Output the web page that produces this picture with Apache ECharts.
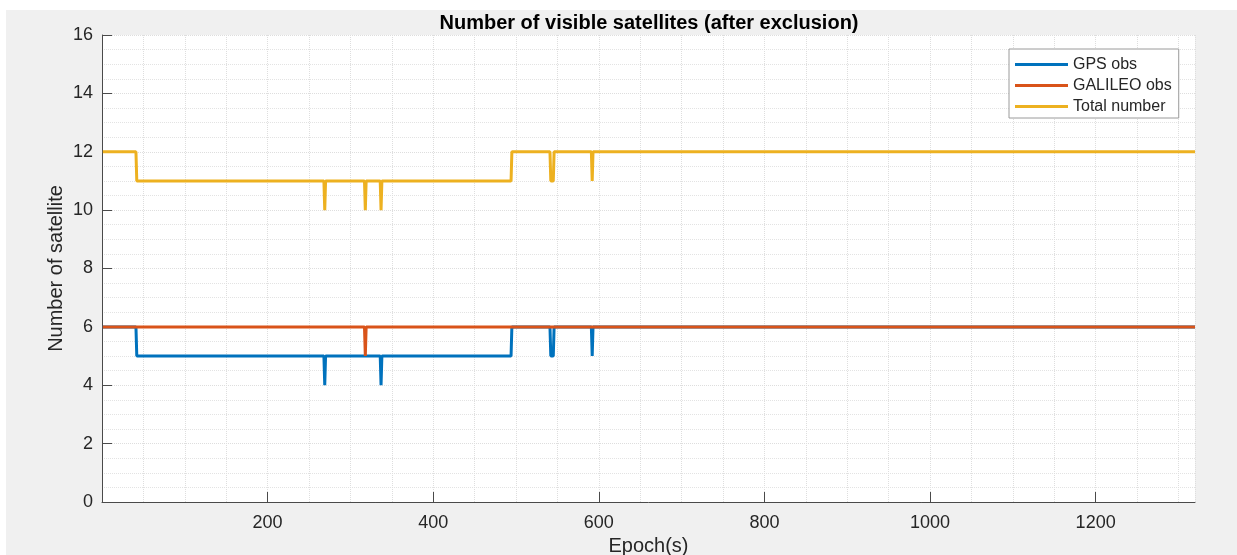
<!DOCTYPE html>
<html>
<head>
<meta charset="utf-8">
<script src="https://cdn.jsdelivr.net/npm/echarts@6/dist/echarts.min.js"></script>
<style>
  html, body { margin: 0; padding: 0; background: #ffffff; width: 1237px; height: 555px; overflow: hidden; }
  #chart { position: absolute; left: 6px; top: 10px; width: 1231px; height: 545px; background: #f0f0f0; }
</style>
</head>
<body>
<div id="chart"></div>
<script>
// ---- Data (epoch, count) vertices ----
const seriesNames = ['GPS obs', 'GALILEO obs', 'Total number'];
const gpsPoints = [[1,6],[41,6],[42,5],[268,5],[269,4],[270,5],[336,5],[337,4],[338,5],[494,5],[495,6],[541,6],[542,5],[545,5],[546,6],[591,6],[592,5],[593,6],[1320,6]];
const galileoPoints = [[1,6],[317,6],[318,5],[319,6],[1320,6]];
const totalPoints = [[1,12],[41,12],[42,11],[268,11],[269,10],[270,11],[317,11],[318,10],[319,11],[336,11],[337,10],[338,11],[494,11],[495,12],[541,12],[542,11],[545,11],[546,12],[591,12],[592,11],[593,12],[1320,12]];
const xTickLabels = [200, 400, 600, 800, 1000, 1200];
const yTickLabels = [0, 2, 4, 6, 8, 10, 12, 14, 16];

const colors = ['#0072BD', '#D95319', '#EDB120'];
const font = "'Liberation Sans', Arial, Helvetica, sans-serif";
const textColor = '#262626';

const chart = echarts.init(document.getElementById('chart'), null, { renderer: 'canvas' });
const mk = (name, data, color) => ({
  name, type: 'line', data, showSymbol: false, symbol: 'none',
  lineStyle: { color, width: 3 }, itemStyle: { color },
  xAxisIndex: 0, yAxisIndex: 0, animation: false
});

chart.setOption({
  animation: false,
  backgroundColor: '#f0f0f0',
  title: {
    text: 'Number of visible satellites (after exclusion)',
    left: 638, top: -2, textAlign: 'center',
    textStyle: { fontFamily: font, fontSize: 20, fontWeight: 'bold', color: '#000' }
  },
  legend: {
    orient: 'vertical', left: 1003, top: 39,
    data: seriesNames,
    icon: 'rect', itemWidth: 53, itemHeight: 3, itemGap: 0,
    backgroundColor: '#ffffff', borderColor: '#9a9a9a', borderWidth: 1,
    padding: [5, 7, 1, 6],
    textStyle: { fontFamily: font, fontSize: 16, color: textColor, lineHeight: 21 }
  },
  grid: { left: 96, right: 42, top: 25, bottom: 53, backgroundColor: '#ffffff', show: true, borderWidth: 0,
          containLabel: false, outerBoundsMode: 'none' },
  xAxis: [
    {
      type: 'value', min: 0, max: 1320, interval: 200,
      name: 'Epoch(s)', nameLocation: 'middle', nameGap: 34, nameMoveOverlap: false,
      nameTextStyle: { fontFamily: font, fontSize: 20, color: textColor },
      axisLine: { show: true, lineStyle: { color: '#4a4a4a', width: 1 } },
      axisTick: { show: true, inside: true, length: 10, customValues: xTickLabels, lineStyle: { color: '#4a4a4a' } },
      axisLabel: { customValues: xTickLabels, fontFamily: font, fontSize: 18, color: textColor, margin: 12,
        formatter: v => String(v) },
      splitLine: { show: false }
    },
    {
      type: 'value', min: 0, max: 1320, interval: 50, gridIndex: 0,
      axisLine: { show: false }, axisTick: { show: false }, axisLabel: { show: false },
      splitLine: { show: true, lineStyle: { color: '#dedede', type: 'dotted', width: 1 } }
    }
  ],
  yAxis: {
    type: 'value', min: 0, max: 16, interval: 2,
    name: 'Number of satellite', nameLocation: 'middle', nameGap: 36, nameMoveOverlap: false,
    nameTextStyle: { fontFamily: font, fontSize: 20, color: textColor },
    axisLine: { show: true, lineStyle: { color: '#4a4a4a', width: 1 } },
    axisTick: { show: true, inside: true, length: 10, lineStyle: { color: '#4a4a4a' } },
    axisLabel: { fontFamily: font, fontSize: 18, color: textColor, margin: 9,
      formatter: v => (yTickLabels.includes(v) ? String(v) : '') },
    minorTick: { show: false, splitNumber: 4 },
    splitLine: { show: true, lineStyle: { color: '#dedede', type: 'dotted', width: 1 } },
    minorSplitLine: { show: true, lineStyle: { color: '#e3e3e3', type: 'dotted', width: 1 } }
  },
  series: [
    mk(seriesNames[0], gpsPoints, colors[0]),
    mk(seriesNames[1], galileoPoints, colors[1]),
    mk(seriesNames[2], totalPoints, colors[2])
  ]
});
</script>
</body>
</html>
